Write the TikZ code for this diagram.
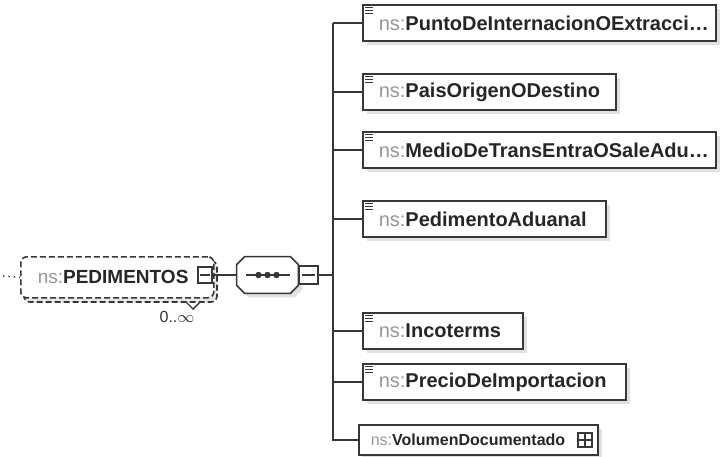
\documentclass[tikz,border=0pt]{standalone}
\usepackage{fontspec}
\setmainfont{Liberation Sans}
\usetikzlibrary{shadows}

\definecolor{nsgray}{RGB}{150,150,150}
\definecolor{boxline}{RGB}{55,55,55}
\definecolor{shade}{RGB}{195,195,195}
\newcommand{\nspre}{{\color{nsgray}ns:}}

\tikzset{
  conn/.style={draw=boxline, line width=0.75pt},
  elem/.style={draw=boxline, line width=0.8pt, fill=white, anchor=west,
    minimum height=18pt, inner xsep=8pt, inner ysep=0pt, align=left,
    font=\fontsize{10}{12}\selectfont, text=black!85,
    drop shadow={shadow xshift=2pt, shadow yshift=-2pt, fill=shade}},
  cplx/.style={elem, drop shadow={shadow xshift=1pt, shadow yshift=-1pt, fill=shade!60},
    minimum height=15pt, inner xsep=6pt, font=\fontsize{8}{10}\selectfont},
  optbox/.style={draw=boxline, line width=0.8pt, dash pattern=on 3pt off 1.5pt,
    rounded corners=3pt, fill=white},
  seqpath/.style={draw=boxline, line width=0.8pt, fill=white,
    drop shadow={shadow xshift=2pt, shadow yshift=-2pt, fill=shade}},
  togglebox/.style={draw=boxline, line width=0.7pt, fill=white, inner sep=0pt}
}

\begin{document}
\begin{tikzpicture}[x=0.5pt,y=-0.5pt]
  \useasboundingbox (0,0) rectangle (721,456);

  % root element, optional and repeated
  \draw[optbox, fill=shade!40] (24,261) rectangle (217,302);
  \node[optbox, anchor=north west, minimum width=96.5pt, minimum height=20.5pt,
    inner xsep=8.5pt, text width=79.5pt, align=left,
    font=\fontsize{9.5}{11}\selectfont, text=black!85] (ped) at (20,256)
    {\nspre\textbf{PEDIMENTOS}};
  \node[togglebox, minimum width=7pt, minimum height=8pt] (pedminus) at (205,275) {};
  \draw[boxline, line width=0.6pt] ([xshift=1.5pt]pedminus.west) -- ([xshift=-1.5pt]pedminus.east);
  \draw[boxline, line width=0.7pt] (186,302) -- (193,309) -- (200,302);
  \node[font=\fontsize{8}{9}\selectfont, text=black!80] (occurs) at (177,317) {0..$\infty$};
  \coordinate (src) at (3,276);
  \draw[boxline, line width=0.7pt, dotted] (src) -- (ped.west);

  % sequence
  \node[minimum width=30.5pt, minimum height=18pt, inner sep=0pt] (seq) at (267.5,275) {};
  \draw[seqpath] ([xshift=4pt]seq.north west) -- ([xshift=-4pt]seq.north east)
    -- ([yshift=-4pt]seq.north east) -- ([yshift=4pt]seq.south east)
    -- ([xshift=-4pt]seq.south east) -- ([xshift=4pt]seq.south west)
    -- ([yshift=4pt]seq.south west) -- ([yshift=-4pt]seq.north west) -- cycle;
  \draw[boxline, line width=0.7pt] ([xshift=-11pt]seq.center) -- ([xshift=11pt]seq.center);
  \foreach \d in {-4.5pt,0pt,4.5pt}
    \fill[boxline] ([xshift=\d]seq.center) circle (1.6pt);
  \node[togglebox, anchor=west, minimum width=9.5pt, minimum height=9pt] (seqminus) at (seq.east) {};
  \draw[boxline, line width=0.6pt] ([xshift=2pt]seqminus.west) -- ([xshift=-2pt]seqminus.east);
  \draw[conn] (pedminus.east) -- (seq.west);

  % children
  \coordinate (bus) at (333,275);
  \draw[conn] (seqminus.east) -- (bus);
  \foreach \nm/\yy/\ww/\lbl in {punto/23/160.5pt/PuntoDeInternacionOExtracci\ldots,
      pais/92/110.5pt/PaisOrigenODestino,
      medio/150/160.5pt/MedioDeTransEntraOSaleAdu\ldots,
      pedim/219/105.5pt/PedimentoAduanal,
      inco/331/64pt/Incoterms,
      precio/382/115.5pt/PrecioDeImportacion}
  {
    \draw[conn] (333,\yy) -- (362,\yy);
    \node[elem, text width=\ww] (\nm) at (362,\yy) {\nspre\textbf{\lbl}};
    \foreach \k in {0,3,6}
      \draw[boxline, line width=0.5pt] ([shift={(3,3+\k)}]\nm.north west) -- ++(8,0);
  }
  \node[cplx, text width=107.5pt] (volumen) at (358,440) {\nspre\textbf{VolumenDocumentado}};
  \node[togglebox, minimum size=7pt] (volplus) at (585,440) {};
  \draw[boxline, line width=0.6pt] ([xshift=1pt]volplus.west) -- ([xshift=-1pt]volplus.east);
  \draw[boxline, line width=0.6pt] ([yshift=-1pt]volplus.north) -- ([yshift=1pt]volplus.south);
  \draw[conn] (punto.west -| bus) -- (volumen.west -| bus) -- (volumen.west);
\end{tikzpicture}
\end{document}
